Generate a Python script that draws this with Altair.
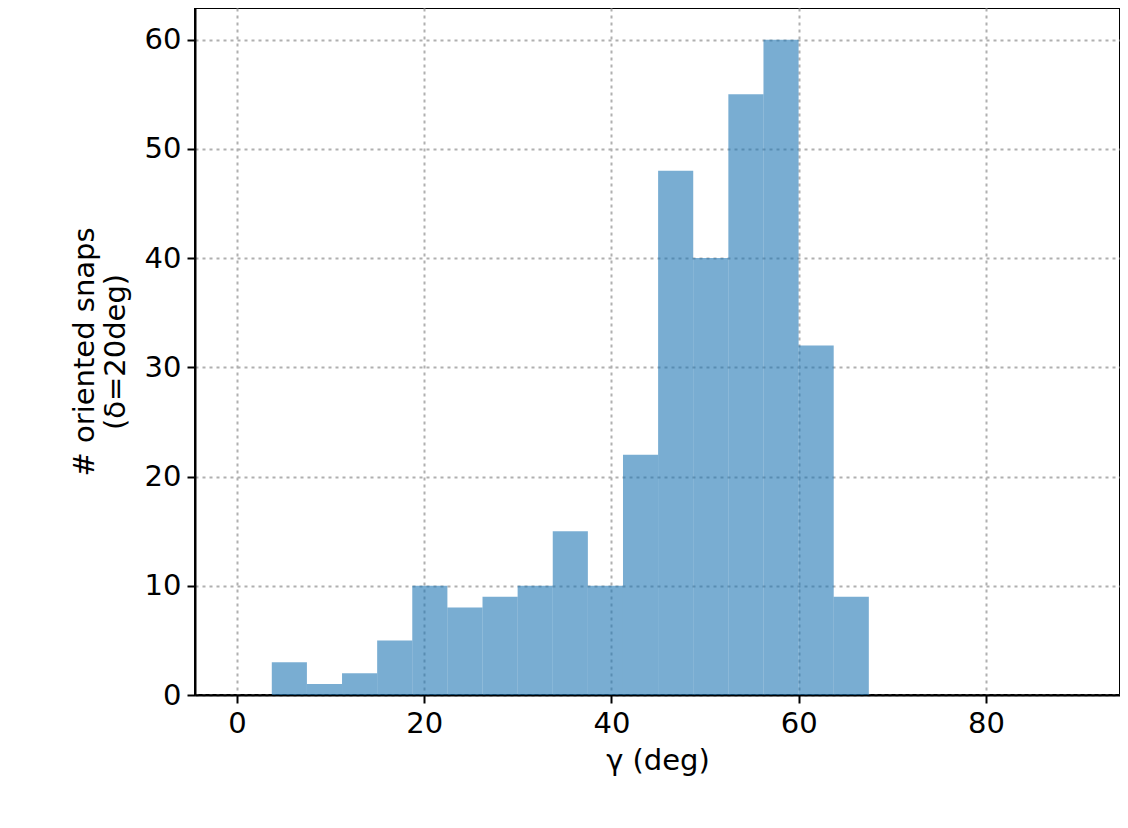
import altair as alt
import pandas as pd

counts = [3, 1, 2, 5, 10, 8, 9, 10, 15, 10, 22, 48, 40, 55, 60, 32, 9]
bin_start = 3.73
bin_width = 3.75
starts = [bin_start + i * bin_width for i in range(len(counts))]
ends = [s + bin_width for s in starts]
df = pd.DataFrame({"start": starts, "end": ends, "count": counts})

F = "DejaVu Sans"
chart = alt.Chart(df).mark_rect(color="#1f77b4", opacity=0.6).encode(
    x=alt.X("start:Q", scale=alt.Scale(domain=[-4.47, 94.3], nice=False, zero=False),
            axis=alt.Axis(values=[0, 20, 40, 60, 80], title="γ (deg)")),
    x2="end:Q",
    y=alt.Y("count:Q", scale=alt.Scale(domain=[0, 62.9], nice=False),
            axis=alt.Axis(values=[0, 10, 20, 30, 40, 50, 60],
                          title=["# oriented snaps", "(δ=20deg)"])),
    y2=alt.value(687),
).properties(
    width=925, height=687, autosize=alt.AutoSizeParams(type="none"),
    padding={"left": 187, "top": 0, "right": 0, "bottom": 130},
).configure_axis(
    labelFont=F, titleFont=F, labelFontSize=29, titleFontSize=29,
    titleFontWeight="normal", labelColor="black", titleColor="black",
    domainColor="black", domainWidth=2, tickColor="black", tickWidth=2, tickSize=8,
    gridColor="#b0b0b0", gridDash=[3, 4], gridWidth=2, labelPadding=6,
).configure_axisX(titlePadding=8).configure_axisY(titlePadding=14).configure_view(
    stroke="black", strokeWidth=2)

chart.save("out.html", embed_options={"renderer": "svg", "actions": False})
